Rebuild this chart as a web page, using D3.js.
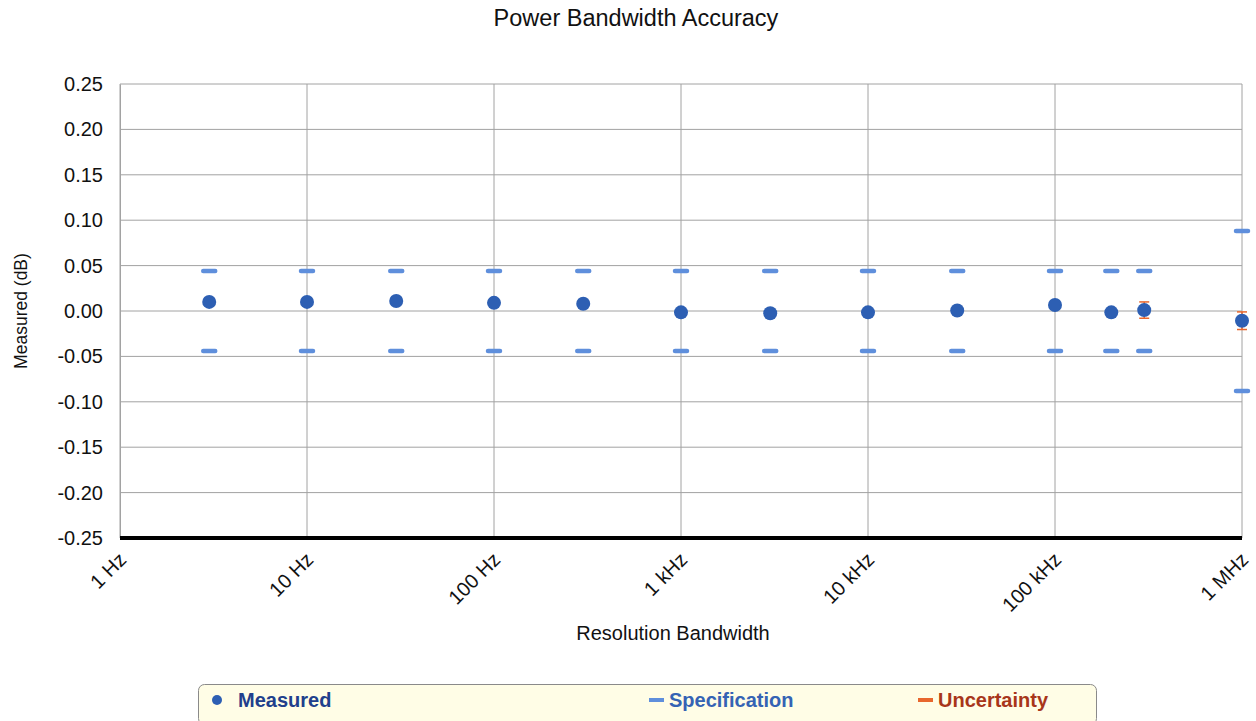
<!DOCTYPE html>
<html>
<head>
<meta charset="utf-8">
<script src="https://cdn.jsdelivr.net/npm/d3@7"></script>
<style>
  html, body { margin: 0; padding: 0; background: #fff; }
  svg { display: block; font-family: "Liberation Sans", Arial, Helvetica, sans-serif; }
</style>
</head>
<body>
<svg id="chart" width="1256" height="721"></svg>
<script>
// Resolution bandwidth settings (Hz)
const rbw = [3, 10, 30, 100, 300, 1e3, 3e3, 1e4, 3e4, 1e5, 2e5, 3e5, 1e6];
// Measured power deviation (dB)
const measured = [0.010, 0.010, 0.011, 0.009, 0.008, -0.0015, -0.0025, -0.0015, 0.0005, 0.0066, -0.0015, 0.001, -0.0107];
// Specification limit (± dB)
const specification = [0.044, 0.044, 0.044, 0.044, 0.044, 0.044, 0.044, 0.044, 0.044, 0.044, 0.044, 0.044, 0.088];
// Measurement uncertainty (± dB), only where it extends past the marker
const uncertainty = [null, null, null, null, null, null, null, null, null, null, null, 0.009, 0.0097];

const xTickValues = [1, 10, 100, 1e3, 1e4, 1e5, 1e6];
const xTickLabels = ["1 Hz", "10 Hz", "100 Hz", "1 kHz", "10 kHz", "100 kHz", "1 MHz"];
const yTickValues = [-0.25, -0.20, -0.15, -0.10, -0.05, 0.00, 0.05, 0.10, 0.15, 0.20, 0.25];

const legendItems = [
  { name: "Measured", kind: "dot", text: "#213f8c" },
  { name: "Specification", kind: "spec", text: "#3563b4" },
  { name: "Uncertainty", kind: "unc", text: "#a8361a" }
];

const colDot = "#2d5fb3";
const colSpec = "#5f8fdc";
const colUnc = "#e8672d";

const svg = d3.select("#chart");
const plot = { left: 120, right: 1242, top: 84, bottom: 538 };

const x = d3.scaleLog().domain([1, 1e6]).range([plot.left, plot.right]);
const y = d3.scaleLinear().domain([-0.25, 0.25]).range([plot.bottom, plot.top]);

const fmt = d3.formatLocale({ decimal: ".", thousands: ",", grouping: [3], currency: ["", ""], minus: "-" }).format(".2f");

// Gridlines
svg.append("g").selectAll("line.h").data(yTickValues).join("line")
  .attr("x1", plot.left).attr("x2", plot.right)
  .attr("y1", d => y(d)).attr("y2", d => y(d))
  .attr("stroke", "#a2a2a2").attr("stroke-width", 1);
svg.append("g").selectAll("line.v").data(xTickValues).join("line")
  .attr("x1", d => x(d)).attr("x2", d => x(d))
  .attr("y1", plot.top).attr("y2", plot.bottom)
  .attr("stroke", "#a2a2a2").attr("stroke-width", 1);

// Y axis
const yAxis = svg.append("g").attr("transform", `translate(${plot.left},0)`)
  .call(d3.axisLeft(y).tickValues(yTickValues).tickFormat(fmt).tickSize(0).tickPadding(17));
yAxis.select(".domain").attr("stroke", "#a2a2a2");
yAxis.selectAll("text").attr("font-size", 20).attr("fill", "#111")
  .attr("font-family", "Liberation Sans, Arial, sans-serif");

// X axis
const xAxis = svg.append("g").attr("transform", `translate(0,${plot.bottom})`)
  .call(d3.axisBottom(x).tickValues(xTickValues).tickFormat((d, i) => xTickLabels[i]).tickSize(0));
xAxis.select(".domain").remove();
xAxis.selectAll("text")
  .attr("font-size", 20).attr("fill", "#111")
  .attr("font-family", "Liberation Sans, Arial, sans-serif")
  .attr("text-anchor", "end")
  .attr("dy", 0)
  .attr("y", 0)
  .attr("transform", "translate(7,23) rotate(-45)");
svg.append("line")
  .attr("x1", plot.left).attr("x2", plot.right)
  .attr("y1", plot.bottom).attr("y2", plot.bottom)
  .attr("stroke", "#000").attr("stroke-width", 4);

const data = rbw.map((f, i) => ({ f, m: measured[i], s: specification[i], u: uncertainty[i] }));

// Specification markers
const specG = svg.append("g");
data.forEach(d => {
  [d.s, -d.s].forEach(v => {
    specG.append("line")
      .attr("x1", x(d.f) - 6).attr("x2", x(d.f) + 6)
      .attr("y1", y(v)).attr("y2", y(v))
      .attr("stroke", colSpec).attr("stroke-width", 4.5).attr("stroke-linecap", "round");
  });
});

// Uncertainty bars
const uncG = svg.append("g");
data.filter(d => d.u != null).forEach(d => {
  const cx = x(d.f);
  uncG.append("line").attr("x1", cx).attr("x2", cx)
    .attr("y1", y(d.m + d.u)).attr("y2", y(d.m - d.u))
    .attr("stroke", colUnc).attr("stroke-width", 1.5);
  [d.m + d.u, d.m - d.u].forEach(v => {
    uncG.append("line").attr("x1", cx - 5).attr("x2", cx + 5)
      .attr("y1", y(v)).attr("y2", y(v))
      .attr("stroke", colUnc).attr("stroke-width", 1.5);
  });
});

// Measured points
svg.append("g").selectAll("circle").data(data).join("circle")
  .attr("cx", d => x(d.f)).attr("cy", d => y(d.m)).attr("r", 7)
  .attr("fill", colDot);

// Titles
svg.append("text").attr("x", 636).attr("y", 26).attr("text-anchor", "middle")
  .attr("font-size", 23.5).attr("fill", "#111").text("Power Bandwidth Accuracy");
svg.append("text").attr("x", 673).attr("y", 640).attr("text-anchor", "middle")
  .attr("font-size", 20).attr("fill", "#111").text("Resolution Bandwidth");
svg.append("text").attr("transform", "translate(27,311) rotate(-90)").attr("text-anchor", "middle")
  .attr("font-size", 17.5).attr("fill", "#111").text("Measured (dB)");

// Legend
const lg = svg.append("g");
lg.append("rect").attr("x", 198.5).attr("y", 684.5).attr("width", 898).attr("height", 40)
  .attr("rx", 6).attr("fill", "#fffde6").attr("stroke", "#8a8a8a").attr("stroke-width", 1);
const legendX = [210, 648, 917];
legendItems.forEach((it, i) => {
  const lx = legendX[i], ly = 700;
  if (it.kind === "dot") {
    lg.append("circle").attr("cx", lx + 7).attr("cy", ly).attr("r", 5).attr("fill", colDot);
  } else {
    lg.append("line").attr("x1", lx + 1).attr("x2", lx + 16).attr("y1", ly).attr("y2", ly)
      .attr("stroke", it.kind === "spec" ? colSpec : colUnc).attr("stroke-width", 4);
  }
  lg.append("text").attr("x", it.kind === "dot" ? lx + 28 : lx + 21).attr("y", ly + 7)
    .attr("font-size", 20).attr("font-weight", "bold")
    .attr("fill", it.text).text(it.name);
});
</script>
</body>
</html>
